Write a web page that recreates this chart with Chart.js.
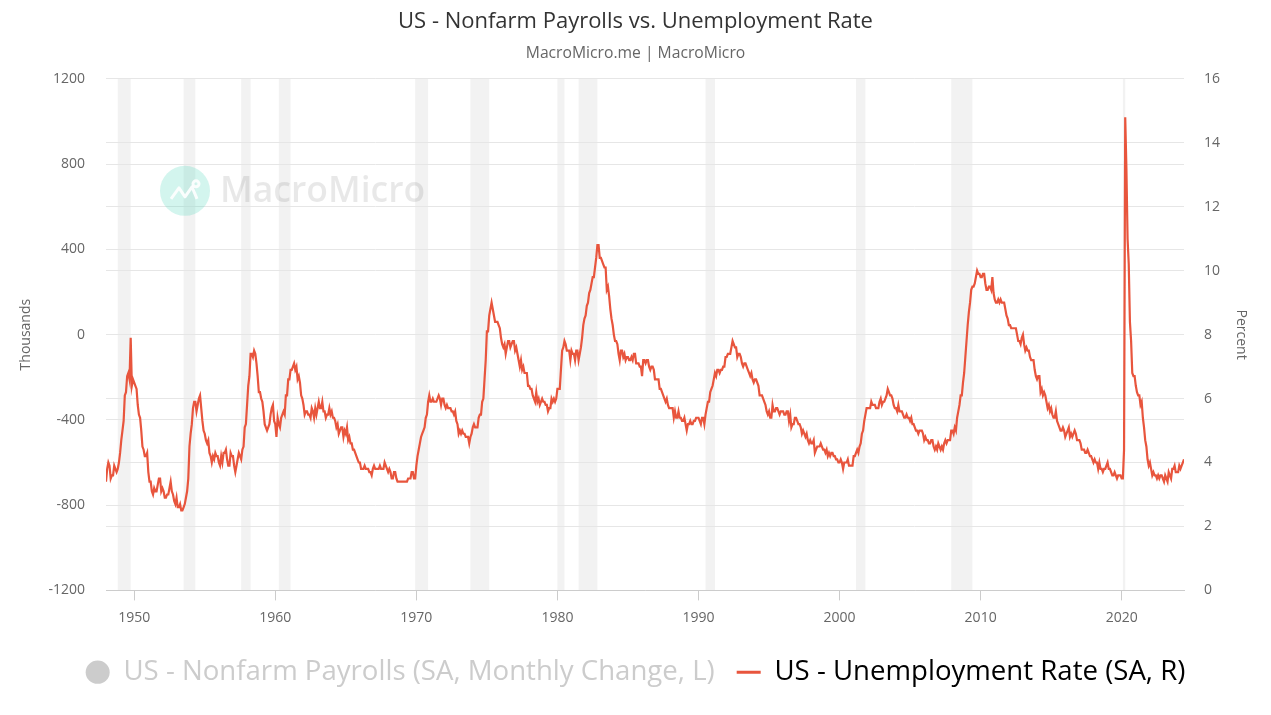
<!DOCTYPE html>
<html>
<head>
<meta charset="utf-8">
<title>US - Nonfarm Payrolls vs. Unemployment Rate</title>
<script src="https://cdn.jsdelivr.net/npm/chart.js@4.4.1/dist/chart.umd.min.js"></script>
<style>
  html, body { margin: 0; padding: 0; background: #fff; }
  #wrap { width: 1271px; height: 715px; }
</style>
</head>
<body>
<div id="wrap"><canvas id="chartUnrate"></canvas></div>
<script>
// monthly unemployment rate (SA, %), starting Jan 1948
const startYear = 1948;
const ur1940s = [
  3.4, 3.8, 4.0, 3.9, 3.5, 3.6, 3.6, 3.9, 3.8, 3.7, 3.8, 4.0,
  4.3, 4.7, 5.0, 5.3, 6.1, 6.2, 6.7, 6.8, 6.6, 7.9, 6.4, 6.6
];
const ur1950s = [
  6.5, 6.4, 6.3, 5.8, 5.5, 5.4, 5.0, 4.5, 4.4, 4.2, 4.2, 4.3,
  3.7, 3.4, 3.4, 3.1, 3.0, 3.2, 3.1, 3.1, 3.3, 3.5, 3.5, 3.1,
  3.2, 3.1, 2.9, 2.9, 3.0, 3.0, 3.2, 3.4, 3.1, 3.0, 2.8, 2.7,
  2.9, 2.6, 2.6, 2.7, 2.5, 2.5, 2.6, 2.7, 2.9, 3.1, 3.5, 4.5,
  4.9, 5.2, 5.7, 5.9, 5.9, 5.6, 5.8, 6.0, 6.1, 5.7, 5.3, 5.0,
  4.9, 4.7, 4.6, 4.7, 4.3, 4.2, 4.0, 4.2, 4.1, 4.3, 4.2, 4.2,
  4.0, 3.9, 4.2, 4.0, 4.3, 4.3, 4.4, 4.1, 3.9, 3.9, 4.3, 4.2,
  4.2, 3.9, 3.7, 3.9, 4.1, 4.3, 4.2, 4.1, 4.4, 4.5, 5.1, 5.2,
  5.8, 6.4, 6.7, 7.4, 7.4, 7.3, 7.5, 7.4, 7.1, 6.7, 6.2, 6.2,
  6.0, 5.9, 5.6, 5.2, 5.1, 5.0, 5.1, 5.2, 5.5, 5.7, 5.8, 5.3
];
const ur1960s = [
  5.2, 4.8, 5.4, 5.2, 5.1, 5.4, 5.5, 5.6, 5.5, 6.1, 6.1, 6.6,
  6.6, 6.9, 6.9, 7.0, 7.1, 6.9, 7.0, 6.6, 6.7, 6.5, 6.1, 6.0,
  5.8, 5.5, 5.6, 5.6, 5.5, 5.5, 5.4, 5.7, 5.6, 5.4, 5.7, 5.5,
  5.7, 5.9, 5.7, 5.7, 5.9, 5.6, 5.6, 5.4, 5.5, 5.5, 5.7, 5.5,
  5.6, 5.4, 5.4, 5.3, 5.1, 5.2, 4.9, 5.0, 5.1, 5.1, 4.8, 5.0,
  4.9, 5.1, 4.7, 4.8, 4.6, 4.6, 4.4, 4.4, 4.3, 4.2, 4.1, 4.0,
  4.0, 3.8, 3.8, 3.8, 3.9, 3.8, 3.8, 3.8, 3.7, 3.7, 3.6, 3.8,
  3.9, 3.8, 3.8, 3.8, 3.8, 3.9, 3.8, 3.8, 3.8, 4.0, 3.9, 3.8,
  3.7, 3.8, 3.7, 3.5, 3.5, 3.7, 3.7, 3.5, 3.4, 3.4, 3.4, 3.4,
  3.4, 3.4, 3.4, 3.4, 3.4, 3.5, 3.5, 3.5, 3.7, 3.7, 3.5, 3.5
];
const ur1970s = [
  3.9, 4.2, 4.4, 4.6, 4.8, 4.9, 5.0, 5.1, 5.4, 5.5, 5.9, 6.1,
  5.9, 5.9, 6.0, 5.9, 5.9, 5.9, 6.0, 6.1, 6.0, 5.8, 6.0, 6.0,
  5.8, 5.7, 5.8, 5.7, 5.7, 5.7, 5.6, 5.6, 5.5, 5.6, 5.3, 5.2,
  4.9, 5.0, 4.9, 5.0, 4.9, 4.9, 4.8, 4.8, 4.8, 4.6, 4.8, 4.9,
  5.1, 5.2, 5.1, 5.1, 5.1, 5.4, 5.5, 5.5, 5.9, 6.0, 6.6, 7.2,
  8.1, 8.1, 8.6, 8.8, 9.0, 8.8, 8.6, 8.4, 8.4, 8.4, 8.3, 8.2,
  7.9, 7.7, 7.6, 7.7, 7.4, 7.6, 7.8, 7.8, 7.6, 7.7, 7.8, 7.8,
  7.5, 7.6, 7.4, 7.2, 7.0, 7.2, 6.9, 7.0, 6.8, 6.8, 6.8, 6.4,
  6.4, 6.3, 6.3, 6.1, 6.0, 5.9, 6.2, 5.9, 6.0, 5.8, 5.9, 6.0,
  5.9, 5.9, 5.8, 5.8, 5.6, 5.7, 5.7, 6.0, 5.9, 6.0, 5.9, 6.0
];
const ur1980s = [
  6.3, 6.3, 6.3, 6.9, 7.5, 7.6, 7.8, 7.7, 7.5, 7.5, 7.5, 7.2,
  7.5, 7.4, 7.4, 7.2, 7.5, 7.5, 7.2, 7.4, 7.6, 7.9, 8.3, 8.5,
  8.6, 8.9, 9.0, 9.3, 9.4, 9.6, 9.8, 9.8, 10.1, 10.4, 10.8, 10.8,
  10.4, 10.4, 10.3, 10.2, 10.1, 10.1, 9.4, 9.5, 9.2, 8.8, 8.5, 8.3,
  8.0, 7.8, 7.8, 7.7, 7.4, 7.2, 7.5, 7.5, 7.3, 7.4, 7.2, 7.3,
  7.3, 7.2, 7.2, 7.3, 7.2, 7.4, 7.4, 7.1, 7.1, 7.1, 7.0, 7.0,
  6.7, 7.2, 7.2, 7.1, 7.2, 7.2, 7.0, 6.9, 7.0, 7.0, 6.9, 6.6,
  6.6, 6.6, 6.6, 6.3, 6.3, 6.2, 6.1, 6.0, 5.9, 6.0, 5.8, 5.7,
  5.7, 5.7, 5.7, 5.4, 5.6, 5.4, 5.4, 5.6, 5.4, 5.4, 5.3, 5.3,
  5.4, 5.2, 5.0, 5.2, 5.2, 5.3, 5.2, 5.2, 5.3, 5.3, 5.4, 5.4
];
const ur1990s = [
  5.4, 5.3, 5.2, 5.4, 5.4, 5.2, 5.5, 5.7, 5.9, 5.9, 6.2, 6.3,
  6.4, 6.6, 6.8, 6.7, 6.9, 6.9, 6.8, 6.9, 6.9, 7.0, 7.0, 7.3,
  7.3, 7.4, 7.4, 7.4, 7.6, 7.8, 7.7, 7.6, 7.6, 7.3, 7.4, 7.4,
  7.3, 7.1, 7.0, 7.1, 7.1, 7.0, 6.9, 6.8, 6.7, 6.8, 6.6, 6.5,
  6.6, 6.6, 6.5, 6.4, 6.1, 6.1, 6.1, 6.0, 5.9, 5.8, 5.6, 5.5,
  5.6, 5.4, 5.4, 5.8, 5.6, 5.6, 5.7, 5.7, 5.6, 5.5, 5.6, 5.6,
  5.6, 5.5, 5.5, 5.6, 5.6, 5.3, 5.5, 5.1, 5.2, 5.2, 5.4, 5.4,
  5.3, 5.2, 5.2, 5.1, 4.9, 5.0, 4.9, 4.8, 4.9, 4.7, 4.6, 4.7,
  4.6, 4.6, 4.7, 4.3, 4.4, 4.5, 4.5, 4.5, 4.6, 4.5, 4.4, 4.4,
  4.3, 4.4, 4.2, 4.3, 4.2, 4.3, 4.3, 4.2, 4.2, 4.1, 4.1, 4.0
];
const ur2000s = [
  4.0, 4.1, 4.0, 3.8, 4.0, 4.0, 4.0, 4.1, 3.9, 3.9, 3.9, 3.9,
  4.2, 4.2, 4.3, 4.4, 4.3, 4.5, 4.6, 4.9, 5.0, 5.3, 5.5, 5.7,
  5.7, 5.7, 5.7, 5.9, 5.8, 5.8, 5.8, 5.7, 5.7, 5.7, 5.9, 6.0,
  5.8, 5.9, 5.9, 6.0, 6.1, 6.3, 6.2, 6.1, 6.1, 6.0, 5.8, 5.7,
  5.7, 5.6, 5.8, 5.6, 5.6, 5.6, 5.5, 5.4, 5.4, 5.5, 5.4, 5.4,
  5.3, 5.4, 5.2, 5.2, 5.1, 5.0, 5.0, 4.9, 5.0, 5.0, 5.0, 4.9,
  4.7, 4.8, 4.7, 4.7, 4.6, 4.6, 4.7, 4.7, 4.5, 4.4, 4.5, 4.4,
  4.6, 4.5, 4.4, 4.5, 4.4, 4.6, 4.7, 4.6, 4.7, 4.7, 4.7, 5.0,
  5.0, 4.9, 5.1, 5.0, 5.4, 5.6, 5.8, 6.1, 6.1, 6.5, 6.8, 7.3,
  7.8, 8.3, 8.7, 9.0, 9.4, 9.5, 9.5, 9.6, 9.8, 10.0, 9.9, 9.9
];
const ur2010s = [
  9.8, 9.8, 9.9, 9.9, 9.6, 9.4, 9.4, 9.5, 9.5, 9.4, 9.8, 9.3,
  9.1, 9.0, 9.0, 9.1, 9.0, 9.1, 9.0, 9.0, 9.0, 8.8, 8.6, 8.5,
  8.3, 8.3, 8.2, 8.2, 8.2, 8.2, 8.2, 8.0, 7.8, 7.8, 7.7, 7.9,
  8.0, 7.7, 7.5, 7.6, 7.5, 7.5, 7.3, 7.2, 7.2, 7.2, 6.9, 6.7,
  6.6, 6.7, 6.7, 6.2, 6.3, 6.1, 6.2, 6.1, 5.9, 5.7, 5.8, 5.6,
  5.7, 5.5, 5.4, 5.4, 5.6, 5.3, 5.2, 5.1, 5.0, 5.0, 5.1, 5.0,
  4.8, 4.9, 5.0, 5.1, 4.8, 4.9, 4.8, 4.9, 5.0, 4.9, 4.7, 4.7,
  4.7, 4.6, 4.4, 4.4, 4.4, 4.3, 4.3, 4.4, 4.3, 4.2, 4.2, 4.1,
  4.0, 4.1, 4.0, 4.0, 3.8, 4.0, 3.8, 3.8, 3.7, 3.8, 3.8, 3.9,
  4.0, 3.8, 3.8, 3.7, 3.6, 3.6, 3.7, 3.6, 3.5, 3.6, 3.6, 3.6
];
const ur2020s = [
  3.5, 3.5, 4.4, 14.8, 13.2, 11.0, 10.2, 8.4, 7.8, 6.8, 6.7, 6.7,
  6.4, 6.2, 6.1, 6.1, 5.8, 5.9, 5.4, 5.1, 4.7, 4.5, 4.1, 3.9,
  4.0, 3.8, 3.6, 3.7, 3.6, 3.6, 3.5, 3.6, 3.5, 3.6, 3.6, 3.5,
  3.4, 3.6, 3.5, 3.4, 3.7, 3.6, 3.5, 3.8, 3.8, 3.9, 3.7, 3.7,
  3.7, 3.9, 3.8, 3.9, 4.0, 4.1
];
// payrolls series is switched off in the legend, so nothing is plotted
const payrolls = [];

// NBER recessions: [start year, start month, end year, end month]
const recessions = [
  [1948, 11, 1949, 10], [1953, 7, 1954, 5], [1957, 8, 1958, 4],
  [1960, 4, 1961, 2], [1969, 12, 1970, 11], [1973, 11, 1975, 3],
  [1980, 1, 1980, 7], [1981, 7, 1982, 11], [1990, 7, 1991, 3],
  [2001, 3, 2001, 11], [2007, 12, 2009, 6], [2020, 2, 2020, 4]
];

const yearTicks = [1950, 1960, 1970, 1980, 1990, 2000, 2010, 2020];
const leftTicks = [-1200, -800, -400, 0, 400, 800, 1200];
const rightTicks = [0, 2, 4, 6, 8, 10, 12, 14, 16];

const FONT = "'Open Sans', 'Noto Sans', sans-serif";
const LINE_COLOR = '#e8553d';

const unrate = [].concat(ur1940s, ur1950s, ur1960s, ur1970s, ur1980s, ur1990s, ur2000s, ur2010s, ur2020s);
const unratePoints = unrate.map((v, i) => ({ x: startYear + i / 12, y: v }));
const lastX = unratePoints[unratePoints.length - 1].x;

function monthToX(y, m) {
  return y + (m - 1) / 12;
}

// grey recession bands behind everything
const recessionBands = {
  id: 'recessionBands',
  beforeDraw(chart) {
    const { ctx, chartArea, scales } = chart;
    ctx.save();
    ctx.fillStyle = '#f2f2f2';
    recessions.forEach(r => {
      const x0 = scales.x.getPixelForValue(monthToX(r[0], r[1]));
      const x1 = scales.x.getPixelForValue(monthToX(r[2], r[3]));
      ctx.fillRect(x0, chartArea.top, x1 - x0, chartArea.bottom - chartArea.top);
    });
    ctx.restore();
  }
};

// MacroMicro watermark
const watermark = {
  id: 'watermark',
  beforeDatasetsDraw(chart) {
    const { ctx, chartArea } = chart;
    const cx = chartArea.left + 79;
    const cy = chartArea.top + 112;
    ctx.save();
    ctx.fillStyle = 'rgba(80, 214, 186, 0.25)';
    ctx.beginPath();
    ctx.arc(cx, cy, 25, 0, Math.PI * 2);
    ctx.fill();
    ctx.strokeStyle = 'rgba(255,255,255,0.9)';
    ctx.lineWidth = 3;
    ctx.lineJoin = 'round';
    ctx.beginPath();
    ctx.moveTo(cx - 14, cy + 8);
    ctx.lineTo(cx - 6, cy - 3);
    ctx.lineTo(cx, cy + 6);
    ctx.lineTo(cx + 7, cy - 4);
    ctx.lineTo(cx + 12, cy + 8);
    ctx.stroke();
    ctx.beginPath();
    ctx.arc(cx + 11, cy - 7, 3, 0, Math.PI * 2);
    ctx.stroke();
    ctx.fillStyle = 'rgba(0, 0, 0, 0.09)';
    ctx.font = "600 35.5px " + FONT;
    ctx.textBaseline = 'middle';
    ctx.fillText('MacroMicro', cx + 35, cy + 1);
    ctx.restore();
  }
};

new Chart(document.getElementById('chartUnrate'), {
  type: 'line',
  data: {
    datasets: [{
      label: 'US - Nonfarm Payrolls (SA, Monthly Change, L)',
      data: payrolls,
      yAxisID: 'yL',
      hidden: true,
      borderColor: '#cccccc',
      backgroundColor: '#cccccc'
    }, {
      label: 'US - Unemployment Rate (SA, R)',
      data: unratePoints,
      yAxisID: 'yR',
      borderColor: LINE_COLOR,
      backgroundColor: LINE_COLOR,
      borderWidth: 2.2,
      pointRadius: 0,
      tension: 0
    }]
  },
  options: {
    responsive: true,
    maintainAspectRatio: false,
    animation: false,
    layout: { padding: { left: 0, right: 0, top: 0, bottom: 19 } },
    plugins: {
      tooltip: { enabled: false },
      title: {
        display: true,
        text: 'US - Nonfarm Payrolls vs. Unemployment Rate',
        color: '#333333',
        font: { family: FONT, size: 22, weight: 'normal' },
        padding: { top: 9, bottom: 0 }
      },
      subtitle: {
        display: true,
        text: 'MacroMicro.me | MacroMicro',
        color: '#666666',
        font: { family: FONT, size: 15.7, weight: 'normal' },
        padding: { top: 9, bottom: 15.6 }
      },
      legend: {
        position: 'bottom',
        labels: {
          usePointStyle: true,
          pointStyleWidth: 24,
          boxHeight: 16.5,
          padding: 22,
          font: { family: FONT, size: 27.6 },
          generateLabels(chart) {
            return chart.data.datasets.map((ds, i) => ({
              text: ds.label,
              fillStyle: ds.hidden ? '#cccccc' : ds.borderColor,
              strokeStyle: ds.hidden ? '#cccccc' : ds.borderColor,
              lineWidth: ds.hidden ? 0 : 3,
              pointStyle: ds.hidden ? 'circle' : 'line',
              fontColor: ds.hidden ? '#cccccc' : '#000000',
              hidden: false,
              datasetIndex: i
            }));
          }
        }
      }
    },
    scales: {
      x: {
        type: 'linear',
        min: startYear,
        max: lastX,
        afterBuildTicks(scale) {
          scale.ticks = yearTicks.map(v => ({ value: v }));
        },
        afterFit(scale) { scale.height = 46; },
        ticks: {
          color: '#666666',
          font: { family: FONT, size: 14 },
          padding: 9,
          maxRotation: 0,
          callback: v => String(v)
        },
        grid: {
          drawOnChartArea: false,
          drawTicks: true,
          tickLength: 10,
          color: '#cccccc'
        },
        border: { display: true, color: '#cccccc' }
      },
      yL: {
        position: 'left',
        min: -1200,
        max: 1200,
        afterBuildTicks(scale) {
          scale.ticks = leftTicks.map(v => ({ value: v }));
        },
        afterFit(scale) { scale.width = 106; },
        ticks: {
          color: '#666666',
          font: { family: FONT, size: 14 },
          padding: 21,
          callback: v => String(v)
        },
        grid: { color: '#e6e6e6', drawTicks: false },
        border: { display: false },
        title: {
          display: true,
          text: 'Thousands',
          color: '#666666',
          font: { family: FONT, size: 14 },
          padding: { top: 18, bottom: 0 }
        }
      },
      yR: {
        position: 'right',
        min: 0,
        max: 16,
        afterBuildTicks(scale) {
          scale.ticks = rightTicks.map(v => ({ value: v }));
        },
        afterFit(scale) { scale.width = 87; },
        ticks: {
          color: '#666666',
          font: { family: FONT, size: 14 },
          padding: 20,
          callback: v => String(v)
        },
        grid: { color: '#e6e6e6', drawTicks: false },
        border: { display: false },
        title: {
          display: true,
          text: 'Percent',
          color: '#666666',
          font: { family: FONT, size: 14 },
          padding: { top: 22, bottom: 0 }
        }
      }
    }
  },
  plugins: [recessionBands, watermark]
});
</script>
</body>
</html>
